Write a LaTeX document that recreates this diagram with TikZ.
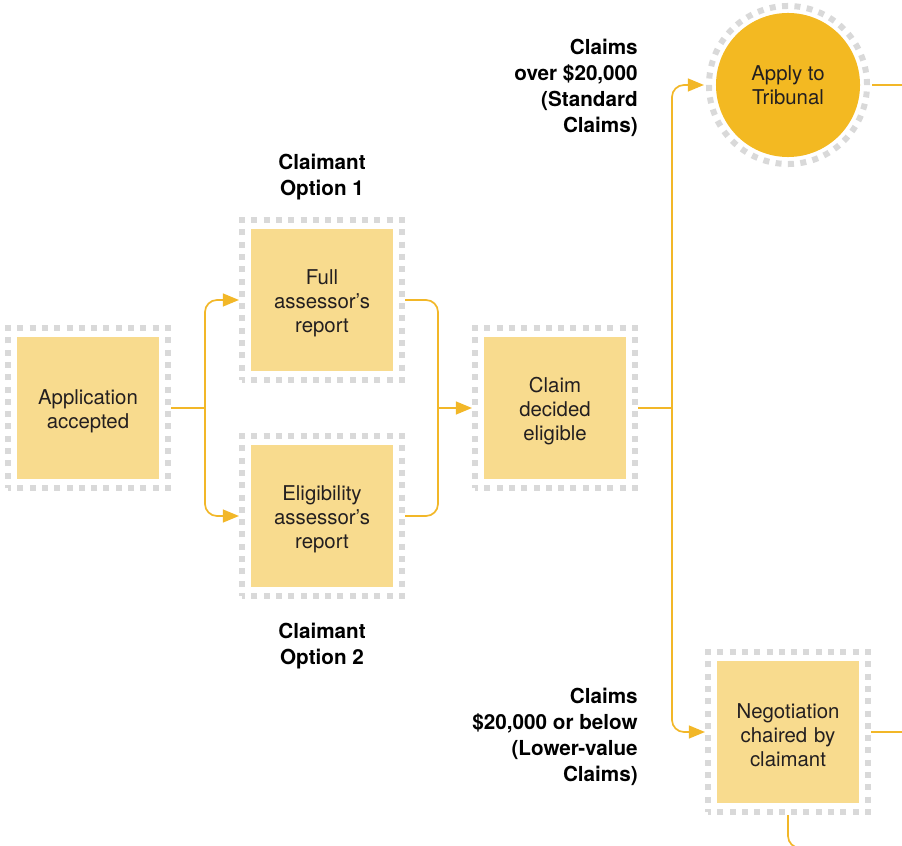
\documentclass[tikz,border=0pt]{standalone}
\usepackage{fontspec}
\setmainfont{TeX Gyre Heros}
\usepackage{tikz}
\usetikzlibrary{arrows.meta,positioning}
\definecolor{boxfill}{HTML}{F8DB8E}
\definecolor{tribfill}{HTML}{F3B922}
\definecolor{flowline}{HTML}{F2B728}
\definecolor{dotgray}{HTML}{D9D9D9}
\definecolor{textdark}{HTML}{231F20}
\tikzset{
stage/.style={fill=boxfill, minimum size=3.55cm, inner sep=0pt, outer sep=0.3cm, text width=3.3cm, align=center, text=textdark, font=\fontsize{14.5}{17.2}\selectfont, execute at end node={\vspace*{-0.15cm}}},
tribunal/.style={circle, fill=tribfill, minimum size=3.6cm, inner sep=0pt, outer sep=0.3cm, align=center, text=textdark, font=\fontsize{14.5}{17.2}\selectfont},
dotframe/.style={draw=dotgray, line width=0.15cm, dash pattern=on 0.15cm off 0.1577cm, dash phase=0.075cm},
dotring/.style={draw=dotgray, line width=0.15cm, dash pattern=on 0.15cm off 0.1602cm},
label/.style={inner sep=0pt, font=\fontsize{14.7}{18.5}\selectfont\bfseries},
line/.style={draw=flowline, line width=1.2pt, rounded corners=0.3cm}
      }
\tikzstyle{arrow} = [line,-{Triangle[length=0.4cm,width=0.32cm]}]

\begin{document}
\begin{tikzpicture}[x=0.025cm,y=-0.025cm]
                \useasboundingbox (0,0) rectangle (902,846);
                \node[stage] (app) at (88,408) {Application\\accepted};
                \node[stage] (full) at (322,300) {Full\\assessor’s\\report};
                \node[stage] (elig) at (322,516) {Eligibility\\assessor’s\\report};
                \node[stage] (claim) at (555,408) {Claim\\decided\\eligible};
                \node[tribunal] (trib) at (788,85) {Apply to\\Tribunal};
                \node[stage] (neg) at (788,732) {Negotiation\\chaired by\\claimant};
                \foreach \n in {app,full,elig,claim,neg}
                    \draw[dotframe] ([shift={(3,-3)}]\n.south west) rectangle ([shift={(-3,3)}]\n.north east);
                \draw[dotring] (trib) circle[radius=1.975cm];
                \node[label, align=center] (opt1) at (322,177) {Claimant\\Option 1};
                \node[label, align=center] (opt2) at (322,646) {Claimant\\Option 2};
                \node[label, align=right, anchor=east] (over) at (638,88) {Claims\\over \$20,000\\(Standard\\Claims)};
                \node[label, align=right, anchor=east] (below) at (638,737) {Claims\\\$20,000 or below\\(Lower-value\\Claims)};
                \coordinate (br1) at (205,408);
                \coordinate (mg) at (438,408);
                \coordinate (br2) at (672,408);
                \coordinate (ex1) at (910,85);
                \coordinate (ex2) at (910,732);
                \coordinate (ex3) at (830,848);
                \draw[line] (app.east) -- (br1);
                \draw[arrow] (br1) |- (full.west);
                \draw[arrow] (br1) |- (elig.west);
                \draw[line] (full.east) -| (mg);
                \draw[line] (elig.east) -| (mg);
                \draw[arrow] (mg) -- (claim.west);
                \draw[line] (claim.east) -- (br2);
                \draw[arrow] (br2) |- (trib.west);
                \draw[arrow] (br2) |- (neg.west);
                \draw[line] (trib.east) -- (ex1);
                \draw[line] (neg.east) -- (ex2);
                \draw[line] (neg.south) |- (ex3);
            \end{tikzpicture}
\end{document}
